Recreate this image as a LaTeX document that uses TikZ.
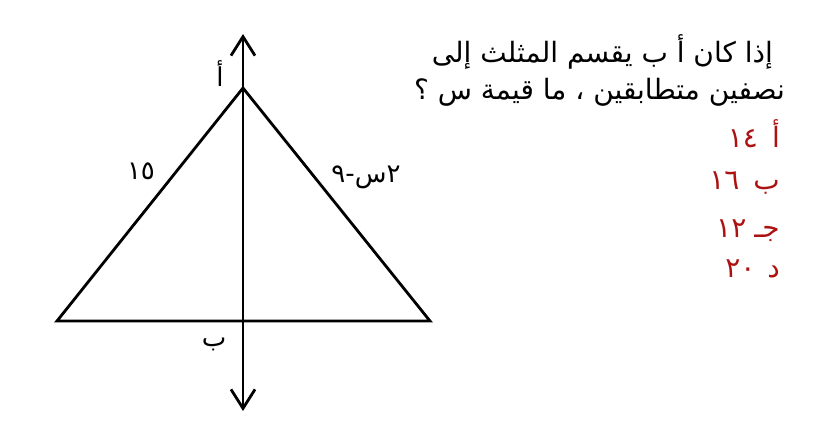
\documentclass[tikz,border=0pt]{standalone}
\usepackage{fontspec}
\usepackage{tikz}
\usetikzlibrary{arrows.meta}
\TeXXeTstate=1
\newfontfamily\arabicfont[Script=Arabic]{DejaVu Sans}
\definecolor{choicered}{RGB}{172,18,18}

\begin{document}
\begin{tikzpicture}[x=1pt,y=-1pt,
        side/.style={line width=2.8pt, line join=miter},
        axis/.style={line width=2.8pt, {Straight Barb[length=19pt,width=24pt]}-{Straight Barb[length=19pt,width=24pt]}},
        lbl/.style={font=\arabicfont\fontsize{26}{30}\selectfont, inner sep=0pt, anchor=base},
        qtext/.style={font=\arabicfont\fontsize{28}{32}\selectfont, inner sep=0pt, anchor=base east},
        choice/.style={qtext, text=choicered}]
        \useasboundingbox (0,0) rectangle (815,438);
        % triangle and the line through its apex
        \coordinate (apex) at (243,88);
        \coordinate (left) at (57,321);
        \coordinate (right) at (430,321);
        \coordinate (top) at (243,34);
        \coordinate (bottom) at (243,411);
        \draw[side] (left) -- (apex) -- (right) -- cycle;
        \draw[axis] (top) -- (bottom);
        % labels
        \node[lbl] (la) at (220,87) {\beginR أ\endR};
        \node[lbl] (lb) at (214,347) {\beginR ب\endR};
        \node[lbl] (lside) at (141,180) {\beginR ١٥\endR};
        \node[lbl] (rside) at (366,183) {\beginR ٢س-٩\endR};
        % question and choices
        \node[qtext] (q1) at (773,63) {\beginR إذا كان أ ب يقسم المثلث إلى\endR};
        \node[qtext] (q2) at (785,100) {\beginR نصفين متطابقين ، ما قيمة س ؟\endR};
        \node[choice] (c1) at (780,148) {\beginR أ\hspace{14pt}١٤\endR};
        \node[choice] (c2) at (780,190) {\beginR ب\hspace{14pt}١٦\endR};
        \node[choice] (c3) at (780,238) {\beginR جـ\hspace{8pt}١٢\endR};
        \node[choice] (c4) at (780,278) {\beginR د\hspace{12pt}٢٠\endR};
\end{tikzpicture}
\end{document}
